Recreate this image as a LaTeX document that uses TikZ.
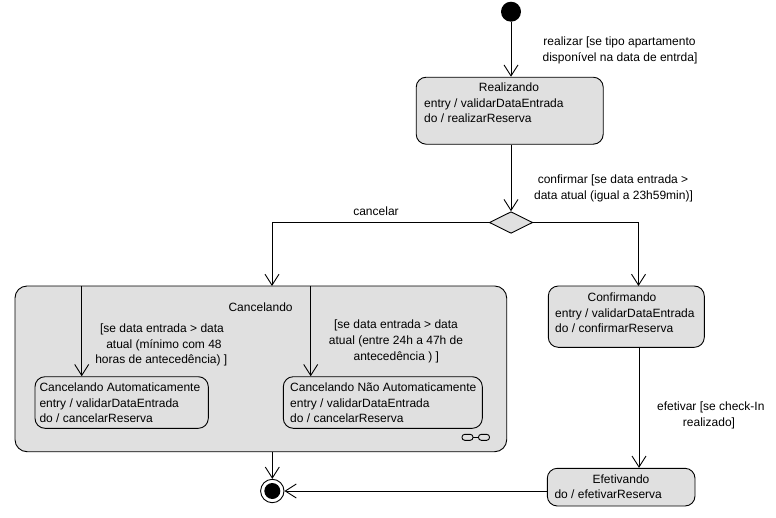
\documentclass[tikz,border=0pt]{standalone}
\usepackage{fontspec}
\setmainfont{Liberation Sans}
\usetikzlibrary{arrows.meta,shapes.geometric}
\definecolor{stfill}{RGB}{224,224,224}
\begin{document}
\begin{tikzpicture}[x=1pt,y=-1pt,
  every node/.style={font=\fontsize{12}{15}\selectfont},
  stbox/.style={draw,fill=stfill,rounded corners=10pt,inner sep=0pt,line width=0.9pt},
  subbox/.style={draw,rounded corners=10pt,inner sep=0pt,line width=0.9pt},
  txt/.style={inner sep=0pt,anchor=base},
  ltxt/.style={inner sep=0pt,anchor=base west},
  arr/.style={line width=0.9pt,-{Straight Barb[length=11pt,width=14pt]}},
  ln/.style={line width=0.9pt}]
\useasboundingbox (0,0) rectangle (776,517);

% initial state
\node[circle,fill=black,minimum size=20pt,inner sep=0pt] (init) at (511,11.7) {};

% Realizando
\node[stbox,minimum width=187pt,minimum height=67pt] (real) at (509.7,110.7) {};
\node[txt] (realt) at (509,91) {Realizando};
\node[ltxt] (real1) at (424,107) {entry / validarDataEntrada};
\node[ltxt] (real2) at (424,122.5) {do / realizarReserva};

% decision
\node[diamond,draw,fill=stfill,line width=0.9pt,minimum width=43.4pt,minimum height=21.6pt,inner sep=0pt] (dec) at (511,222.5) {};

% Cancelando composite
\node[stbox,rounded corners=12pt,minimum width=491.7pt,minimum height=165.7pt] (canc) at (260.85,368.85) {};
\node[txt] (canct) at (260.6,311.5) {Cancelando};
\coordinate (cdrop) at (272,286);
\coordinate (a1) at (81.7,286);
\coordinate (a2) at (310.7,286);

% Cancelando Automaticamente
\node[subbox,minimum width=173.3pt,minimum height=51.6pt] (cauto) at (121.65,402.5) {};
\node[ltxt] (cauto0) at (39.3,391.5) {Cancelando Automaticamente};
\node[ltxt] (cauto1) at (39.3,407) {entry / validarDataEntrada};
\node[ltxt] (cauto2) at (39.3,422.5) {do / cancelarReserva};

% Cancelando Nao Automaticamente
\node[subbox,minimum width=199pt,minimum height=51.6pt] (cnauto) at (382.8,402.5) {};
\node[ltxt] (cnauto0) at (290,391.5) {Cancelando Não Automaticamente};
\node[ltxt] (cnauto1) at (290,407) {entry / validarDataEntrada};
\node[ltxt] (cnauto2) at (290,422.5) {do / cancelarReserva};

% composite icon
\draw[line width=0.9pt,rounded corners=2.8pt] (462,434.3) rectangle (473,440.3);
\draw[line width=0.9pt,rounded corners=2.8pt] (478.5,434.3) rectangle (489.5,440.3);
\draw[line width=0.9pt] (473,437.3) -- (478.5,437.3);

% guards inside composite
\node[txt] (g1a) at (162,332) {[se data entrada > data};
\node[txt] (g1b) at (164,348) {atual (mínimo com 48};
\node[txt] (g1c) at (161.3,363.5) {horas de antecedência) ]};
\node[txt] (g2a) at (396,328) {[se data entrada > data};
\node[txt] (g2b) at (396,344) {atual (entre 24h a 47h de};
\node[txt] (g2c) at (396.3,360) {antecedência ) ]};

% Confirmando
\node[stbox,minimum width=156pt,minimum height=61.3pt] (conf) at (626.3,316.65) {};
\node[txt] (conft) at (622,301.5) {Confirmando};
\node[ltxt] (conf1) at (555,317) {entry / validarDataEntrada};
\node[ltxt] (conf2) at (555,332.5) {do / confirmarReserva};
\coordinate (cfdrop) at (638.5,286);

% Efetivando
\node[stbox,minimum width=147.7pt,minimum height=37.7pt] (efet) at (621.15,487.15) {};
\node[txt] (efett) at (621,483) {Efetivando};
\node[ltxt] (efet1) at (554.3,498.5) {do / efetivarReserva};

% final state
\node[circle,draw,line width=0.9pt,minimum size=23.4pt,inner sep=0pt] (fin) at (272.3,491) {};
\fill (fin.center) circle (8pt);

% transition labels
\node[txt] (l1a) at (619.5,45) {realizar [se tipo apartamento};
\node[txt] (l1b) at (620,61) {disponível na data de entrda]};
\node[txt] (l2a) at (613,183) {confirmar [se data entrada >};
\node[txt] (l2b) at (613.5,199) {data atual (igual a 23h59min)]};
\node[txt] (l3) at (376,215) {cancelar};
\node[txt] (l4a) at (710.8,410) {efetivar [se check-In};
\node[txt] (l4b) at (709,426) {realizado]};

% connectors
\draw[arr] (init) -- (init |- real.north);
\draw[arr] (dec |- real.south) -- (dec.north);
\draw[arr] (dec.west) -| (cdrop);
\draw[arr] (dec.east) -| (cfdrop);
\draw[arr] (a1) -- (a1 |- cauto.north);
\draw[arr] (a2) -- (a2 |- cnauto.north);
\draw[arr] (fin |- canc.south) -- (fin.north);
\coordinate (cfbot) at (639,348);
\draw[arr] (cfbot) -- (cfbot |- efet.north);
\draw[arr] (efet.west |- fin) -- (fin.east);
\end{tikzpicture}
\end{document}
